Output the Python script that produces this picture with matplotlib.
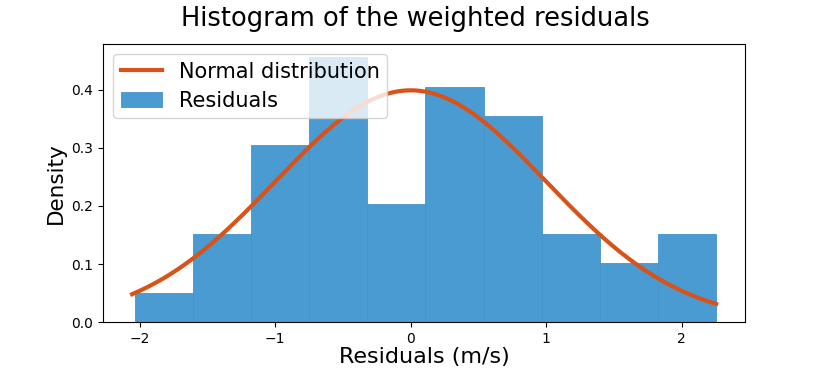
import numpy as np
import matplotlib
matplotlib.use("Agg")
import matplotlib.pyplot as plt

# Histogram data (density)
bin_left = -2.037
bin_width = 0.4292
densities = [0.0507, 0.152, 0.304, 0.456, 0.203, 0.405, 0.355, 0.152, 0.101, 0.152]
edges = bin_left + bin_width * np.arange(len(densities) + 1)

# Normal distribution parameters
mu, sigma = 0.0, 1.0

fig = plt.figure(figsize=(8.3, 3.69), dpi=100)
ax = fig.add_axes([0.124, 0.127, 0.774, 0.754])

ax.bar(edges[:-1], densities, width=bin_width, align='edge',
       color='#4a9bd2', edgecolor='#4593c8', linewidth=0.6,
       label='Residuals')

xs = np.linspace(edges[0] - 0.02, edges[-1], 300)
pdf = np.exp(-0.5 * ((xs - mu) / sigma) ** 2) / (sigma * np.sqrt(2 * np.pi))
ax.plot(xs, pdf, color='#d95319', linewidth=3, label='Normal distribution')

ax.set_xlabel('Residuals (m/s)', fontsize=16, labelpad=1)
ax.set_ylabel('Density', fontsize=15.5)
ax.set_yticks([0.0, 0.1, 0.2, 0.3, 0.4])
fig.suptitle('Histogram of the weighted residuals', fontsize=18.5, y=0.985)

leg = ax.legend(loc='upper left', fontsize=15, framealpha=0.8,
                borderaxespad=0.5, handlelength=2.0, borderpad=0.35,
                labelspacing=0.45)
leg.set_zorder(5)

fig.savefig('out.png', dpi=100)
